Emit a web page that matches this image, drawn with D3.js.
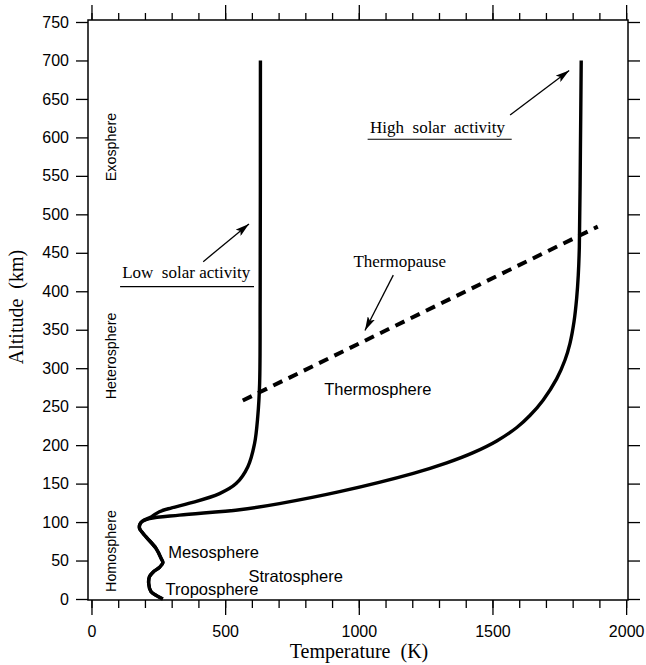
<!DOCTYPE html>
<html>
<head>
<meta charset="utf-8">
<script src="https://cdn.jsdelivr.net/npm/d3@7"></script>
<style>
  body { margin: 0; background: #fff; }
  .sans { font-family: "Liberation Sans", Arial, sans-serif; }
  .serif { font-family: "Liberation Serif", "Times New Roman", serif; }
</style>
</head>
<body>
<svg id="chart" width="646" height="665"></svg>
<script>
// Temperature (K) and altitude (km)
// shared part: troposphere up to the mesopause
var lowerTemp = [267, 245, 223, 214, 217, 232, 254, 267, 261, 242, 205, 180, 181, 190];
var lowerAlt  = [0, 4, 9.5, 20, 29, 35.5, 41, 47, 52.5, 65.5, 80.5, 91.5, 97, 101];

// low solar activity branch
var lowTemp = [190, 225, 254, 300, 367, 479, 541, 585, 610, 622, 629, 631, 632];
var lowAlt  = [101, 107, 113.5, 118.5, 124.5, 137, 150, 172, 202, 237, 280, 389, 700];

// high solar activity branch
var highTemp = [190, 217, 329, 554, 703, 928, 1204, 1329, 1428, 1516, 1591, 1640, 1690, 1740, 1771, 1790, 1805, 1815, 1821, 1825, 1829, 1832];
var highAlt  = [101, 104.5, 109, 116, 124, 139.5, 163.3, 176.9, 190.2, 205.4, 222.9, 238.5, 258.8, 286.1, 310.3, 332.3, 360.3, 391.1, 420.9, 458.1, 583.7, 700];

// thermopause (dashed)
var pauseTemp = [566, 1894];
var pauseAlt  = [258, 484];

var xTicks = d3.range(0, 2001, 500);
var xMinorTicks = d3.range(0, 2001, 100);
var yTicks = d3.range(0, 751, 50);

var svg = d3.select("#chart");

var x = d3.scaleLinear().domain([-13, 2007]).range([88, 628]);
var y = d3.scaleLinear().domain([-1.3, 752.6]).range([600, 20]);

// axes (ticks outward on all four sides)
function styleAxis(g) {
  g.select(".domain").remove();
  g.selectAll(".tick line").attr("stroke", "#000").attr("stroke-width", 1.3);
  g.selectAll("text").attr("class", "sans").attr("font-size", 16).attr("fill", "#000");
}

svg.append("g").attr("transform", "translate(0,600)")
  .call(d3.axisBottom(x).tickValues(xMinorTicks).tickSize(8).tickFormat(""))
  .call(styleAxis);
svg.append("g").attr("transform", "translate(0,600)")
  .call(d3.axisBottom(x).tickValues(xTicks).tickSize(15).tickPadding(11).tickFormat(d3.format("d")))
  .call(styleAxis);
svg.append("g").attr("transform", "translate(0,20)")
  .call(d3.axisTop(x).tickValues(xMinorTicks).tickSize(7).tickFormat(""))
  .call(styleAxis);
svg.append("g").attr("transform", "translate(0,20)")
  .call(d3.axisTop(x).tickValues(xTicks).tickSize(15).tickFormat(""))
  .call(styleAxis);
svg.append("g").attr("transform", "translate(88,0)")
  .call(d3.axisLeft(y).tickValues(yTicks).tickSize(12).tickPadding(7).tickFormat(d3.format("d")))
  .call(styleAxis);
svg.append("g").attr("transform", "translate(628,0)")
  .call(d3.axisRight(y).tickValues(yTicks).tickSize(12).tickFormat(""))
  .call(styleAxis);

// frame
svg.append("rect")
  .attr("x", 88).attr("y", 20)
  .attr("width", 540).attr("height", 580)
  .attr("fill", "none").attr("stroke", "#000").attr("stroke-width", 1.5);

// profiles
var line = d3.line()
  .x(d => x(d[0]))
  .y(d => y(d[1]))
  .curve(d3.curveCatmullRom.alpha(0.5));

function pairs(t, a) { return t.map((v, i) => [v, a[i]]); }

var lowerPts = pairs(lowerTemp, lowerAlt);
[pairs(lowTemp, lowAlt), pairs(highTemp, highAlt)].forEach(function(branch) {
  svg.append("path")
    .datum(lowerPts.concat(branch.slice(1)))
    .attr("d", line)
    .attr("fill", "none")
    .attr("stroke", "#000")
    .attr("stroke-width", 3.4)
    .attr("stroke-linejoin", "round");
});

svg.append("path")
  .datum(pairs(pauseTemp, pauseAlt))
  .attr("d", d3.line().x(d => x(d[0])).y(d => y(d[1])))
  .attr("fill", "none")
  .attr("stroke", "#000")
  .attr("stroke-width", 4)
  .attr("stroke-dasharray", "10,7");

// arrows (from -> to, in data units)
svg.append("defs").append("marker")
  .attr("id", "head")
  .attr("viewBox", "0 0 14 8")
  .attr("refX", 14).attr("refY", 4)
  .attr("markerWidth", 14).attr("markerHeight", 8)
  .attr("markerUnits", "userSpaceOnUse")
  .attr("orient", "auto")
  .append("path").attr("d", "M0,0L14,4L0,8L3,4Z").attr("fill", "#000");

var arrows = [
  [418, 438.5, 589, 487.5],
  [1566, 629, 1787, 687],
  [1129, 421, 1023, 349]
];
svg.selectAll(".arrow")
  .data(arrows)
  .enter()
  .append("line")
  .attr("x1", d => x(d[0])).attr("y1", d => y(d[1]))
  .attr("x2", d => x(d[2])).attr("y2", d => y(d[3]))
  .attr("stroke", "#000")
  .attr("stroke-width", 1.3)
  .attr("marker-end", "url(#head)");

// underlined serif labels
var serifLabels = [
  { text: "Low\u00a0\u00a0solar activity", t: 115, a: 417, u: [107, 608, 406] },
  { text: "High\u00a0\u00a0solar\u00a0\u00a0activity", t: 1042, a: 606, u: [1033, 1572, 597.6] }
];
serifLabels.forEach(function(d) {
  svg.append("text")
    .attr("class", "serif")
    .attr("x", x(d.t)).attr("y", y(d.a))
    .attr("font-size", 17)
    .text(d.text);
  svg.append("line")
    .attr("x1", x(d.u[0])).attr("x2", x(d.u[1]))
    .attr("y1", y(d.u[2])).attr("y2", y(d.u[2]))
    .attr("stroke", "#000").attr("stroke-width", 1.2);
});

svg.append("text")
  .attr("class", "serif")
  .attr("x", x(1153)).attr("y", y(431))
  .attr("text-anchor", "middle")
  .attr("font-size", 17)
  .text("Thermopause");

// layer names
var layers = [
  { text: "Thermosphere", t: 1071, a: 265, anchor: "middle" },
  { text: "Mesosphere", t: 287, a: 53, anchor: "start" },
  { text: "Stratosphere", t: 587, a: 22, anchor: "start" },
  { text: "Troposphere", t: 277, a: 5, anchor: "start" }
];
svg.selectAll(".layer")
  .data(layers)
  .enter()
  .append("text")
  .attr("class", "sans")
  .attr("x", d => x(d.t)).attr("y", d => y(d.a))
  .attr("text-anchor", d => d.anchor)
  .attr("font-size", 16.5)
  .text(d => d.text);

// vertical region names along the left edge
var spheres = [
  { text: "Exosphere", a: 587.5 },
  { text: "Heterosphere", a: 316 },
  { text: "Homosphere", a: 62.4 }
];
svg.selectAll(".sphere")
  .data(spheres)
  .enter()
  .append("text")
  .attr("class", "sans")
  .attr("transform", d => "translate(" + x(92) + "," + y(d.a) + ") rotate(-90)")
  .attr("text-anchor", "middle")
  .attr("font-size", 14.3)
  .text(d => d.text);

// axis titles
svg.append("text")
  .attr("class", "serif")
  .attr("transform", "translate(23,307) rotate(-90)")
  .attr("text-anchor", "middle")
  .attr("font-size", 20)
  .text("Altitude\u00a0\u00a0(km)");

svg.append("text")
  .attr("class", "serif")
  .attr("x", 359).attr("y", 658)
  .attr("text-anchor", "middle")
  .attr("font-size", 20)
  .text("Temperature\u00a0\u00a0(K)");
</script>
</body>
</html>
